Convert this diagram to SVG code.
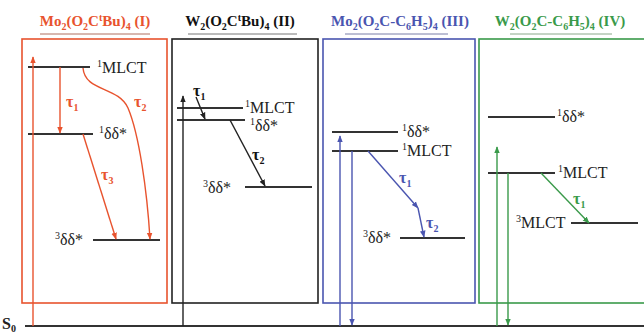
<svg xmlns="http://www.w3.org/2000/svg" width="644" height="335" viewBox="0 0 644 335">
<style>
text{font-family:"Liberation Serif","Times New Roman",serif}
.t{font-size:15px;font-weight:bold;text-anchor:middle}
.lab{font-size:16px;fill:#222}
.tau{font-size:16px;font-weight:bold}
.lvl{stroke:#333;stroke-width:2;fill:none}
.red{stroke:#e8532e;fill:none}
.blk{stroke:#222;fill:none}
.blu{stroke:#4a55b0;fill:none}
.grn{stroke:#3a9a4a;fill:none}
.box{stroke-width:1.6}
.ar{stroke-width:1.4}
.sub{font-size:10px}
</style>
<defs>
<marker id="mr" viewBox="0 0 10 10" refX="9" refY="5" markerWidth="5" markerHeight="5" orient="auto"><path d="M0,1 L10,5 L0,9 Z" fill="#e8532e"/></marker>
<marker id="mk" viewBox="0 0 10 10" refX="9" refY="5" markerWidth="5" markerHeight="5" orient="auto"><path d="M0,1 L10,5 L0,9 Z" fill="#222"/></marker>
<marker id="mb" viewBox="0 0 10 10" refX="9" refY="5" markerWidth="5" markerHeight="5" orient="auto"><path d="M0,1 L10,5 L0,9 Z" fill="#4a55b0"/></marker>
<marker id="mg" viewBox="0 0 10 10" refX="9" refY="5" markerWidth="5" markerHeight="5" orient="auto"><path d="M0,1 L10,5 L0,9 Z" fill="#3a9a4a"/></marker>
</defs>
<rect width="644" height="335" fill="#fff"/>

<!-- S0 ground line -->
<g id="s0">
<line class="lvl" x1="25" y1="326" x2="644" y2="326"/>
<text x="2" y="329" class="lab" font-weight="bold" font-size="15">S<tspan class="sub" dy="3">0</tspan></text>
</g>

<!-- Panel I -->
<g id="panel1">
<text class="t" x="95" y="26" fill="#e8532e">Mo<tspan class="sub" dy="4">2</tspan><tspan dy="-4">(O</tspan><tspan class="sub" dy="4">2</tspan><tspan dy="-4">C</tspan><tspan class="sub" dy="-5">t</tspan><tspan dy="5">Bu)</tspan><tspan class="sub" dy="4">4</tspan><tspan dy="-4"> (I)</tspan></text>
<line x1="40" y1="34" x2="150" y2="34" stroke="#b07060" stroke-width="1"/>
<rect class="red box" x="22" y="39" width="145" height="264"/>
<line class="lvl" x1="28" y1="67" x2="90" y2="67"/>
<text class="lab" x="97" y="73"><tspan class="sub" dy="-6">1</tspan><tspan dy="6">MLCT</tspan></text>
<line class="lvl" x1="28" y1="134" x2="93" y2="134"/>
<text class="lab" x="99" y="139"><tspan class="sub" dy="-6">1</tspan><tspan dy="6">δδ*</tspan></text>
<line class="lvl" x1="93" y1="240" x2="160" y2="240"/>
<text class="lab" x="55" y="245"><tspan class="sub" dy="-6">3</tspan><tspan dy="6">δδ*</tspan></text>
<text class="tau" x="66" y="107" fill="#e8532e">τ<tspan class="sub" dy="4">1</tspan></text>
<text class="tau" x="134" y="107" fill="#e8532e">τ<tspan class="sub" dy="4">2</tspan></text>
<text class="tau" x="101" y="180" fill="#e8532e">τ<tspan class="sub" dy="4">3</tspan></text>
</g>

<!-- Panel II -->
<g id="panel2">
<text class="t" x="240" y="26" fill="#111">W<tspan class="sub" dy="4">2</tspan><tspan dy="-4">(O</tspan><tspan class="sub" dy="4">2</tspan><tspan dy="-4">C</tspan><tspan class="sub" dy="-5">t</tspan><tspan dy="5">Bu)</tspan><tspan class="sub" dy="4">4</tspan><tspan dy="-4"> (II)</tspan></text>
<line x1="188" y1="34" x2="297" y2="34" stroke="#777" stroke-width="1"/>
<rect class="blk box" x="172" y="39" width="146" height="264"/>
<line class="lvl" x1="177" y1="108" x2="243" y2="108"/>
<text class="lab" x="245" y="113"><tspan class="sub" dy="-6">1</tspan><tspan dy="6">MLCT</tspan></text>
<line class="lvl" x1="177" y1="120" x2="245" y2="120"/>
<text class="lab" x="250" y="131"><tspan class="sub" dy="-6">1</tspan><tspan dy="6">δδ*</tspan></text>
<line class="lvl" x1="245" y1="187" x2="312" y2="187"/>
<text class="lab" x="203" y="193"><tspan class="sub" dy="-6">3</tspan><tspan dy="6">δδ*</tspan></text>
<text class="tau" x="193" y="96" fill="#111">τ<tspan class="sub" dy="4">1</tspan></text>
<text class="tau" x="252" y="160" fill="#111">τ<tspan class="sub" dy="4">2</tspan></text>
</g>

<!-- Panel III -->
<g id="panel3">
<text class="t" x="400" y="26" fill="#4a55b0">Mo<tspan class="sub" dy="4">2</tspan><tspan dy="-4">(O</tspan><tspan class="sub" dy="4">2</tspan><tspan dy="-4">C-C</tspan><tspan class="sub" dy="4">6</tspan><tspan dy="-4">H</tspan><tspan class="sub" dy="4">5</tspan><tspan dy="-4">)</tspan><tspan class="sub" dy="4">4</tspan><tspan dy="-4"> (III)</tspan></text>
<line x1="345" y1="34" x2="448" y2="34" stroke="#7a7fa8" stroke-width="1"/>
<rect class="blu box" x="323" y="39" width="152" height="264"/>
<line class="lvl" x1="332" y1="132" x2="398" y2="132"/>
<text class="lab" x="402" y="137"><tspan class="sub" dy="-6">1</tspan><tspan dy="6">δδ*</tspan></text>
<line class="lvl" x1="332" y1="151" x2="398" y2="151"/>
<text class="lab" x="402" y="156"><tspan class="sub" dy="-6">1</tspan><tspan dy="6">MLCT</tspan></text>
<line class="lvl" x1="400" y1="238" x2="465" y2="238"/>
<text class="lab" x="363" y="243"><tspan class="sub" dy="-6">3</tspan><tspan dy="6">δδ*</tspan></text>
<text class="tau" x="399" y="183" fill="#4a55b0">τ<tspan class="sub" dy="4">1</tspan></text>
<text class="tau" x="426" y="228" fill="#4a55b0">τ<tspan class="sub" dy="4">2</tspan></text>
</g>

<!-- Panel IV -->
<g id="panel4">
<text class="t" x="560" y="26" fill="#3a9a4a">W<tspan class="sub" dy="4">2</tspan><tspan dy="-4">(O</tspan><tspan class="sub" dy="4">2</tspan><tspan dy="-4">C-C</tspan><tspan class="sub" dy="4">6</tspan><tspan dy="-4">H</tspan><tspan class="sub" dy="4">5</tspan><tspan dy="-4">)</tspan><tspan class="sub" dy="4">4</tspan><tspan dy="-4"> (IV)</tspan></text>
<line x1="510" y1="34" x2="612" y2="34" stroke="#8aa88a" stroke-width="1"/>
<rect class="grn box" x="479" y="39" width="175" height="264"/>
<line class="lvl" x1="488" y1="117" x2="555" y2="117"/>
<text class="lab" x="557" y="122"><tspan class="sub" dy="-6">1</tspan><tspan dy="6">δδ*</tspan></text>
<line class="lvl" x1="488" y1="173" x2="555" y2="173"/>
<text class="lab" x="558" y="178"><tspan class="sub" dy="-6">1</tspan><tspan dy="6">MLCT</tspan></text>
<line class="lvl" x1="571" y1="223" x2="638" y2="223"/>
<text class="lab" x="516" y="228"><tspan class="sub" dy="-6">3</tspan><tspan dy="6">MLCT</tspan></text>
<text class="tau" x="573" y="204" fill="#3a9a4a">τ<tspan class="sub" dy="4">1</tspan></text>
</g>

<!-- Connectors -->
<g id="connectors">
<line class="red ar" x1="33" y1="326" x2="33" y2="57" marker-end="url(#mr)"/>
<line class="red ar" x1="60" y1="67" x2="60" y2="133" marker-end="url(#mr)"/>
<path class="red ar" d="M83,68 C85,92 118,86 128,108 C139,134 147,190 150,239" marker-end="url(#mr)"/>
<line class="red ar" x1="83" y1="134" x2="116" y2="239" marker-end="url(#mr)"/>

<line class="blk ar" x1="183" y1="326" x2="183" y2="96" marker-end="url(#mk)"/>
<line class="blk ar" x1="196" y1="97" x2="205" y2="119" marker-end="url(#mk)"/>
<line class="blk ar" x1="230" y1="120" x2="265" y2="186" marker-end="url(#mk)"/>

<line class="blu ar" x1="340" y1="326" x2="340" y2="136" marker-end="url(#mb)"/>
<line class="blu ar" x1="352" y1="151" x2="352" y2="325" marker-end="url(#mb)"/>
<line class="blu ar" x1="368" y1="151" x2="418" y2="208" marker-end="url(#mb)"/>
<line class="blu ar" x1="418" y1="208" x2="424" y2="237" marker-end="url(#mb)"/>

<line class="grn ar" x1="497" y1="326" x2="497" y2="147" marker-end="url(#mg)"/>
<line class="grn ar" x1="508" y1="173" x2="508" y2="325" marker-end="url(#mg)"/>
<line class="grn ar" x1="541" y1="173" x2="589" y2="223" marker-end="url(#mg)"/>
</g>
</svg>
